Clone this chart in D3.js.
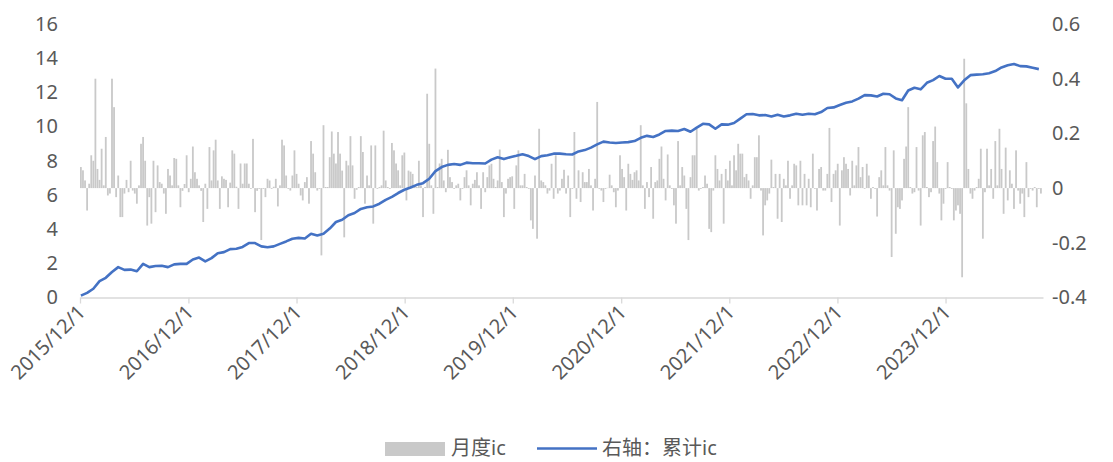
<!DOCTYPE html>
<html>
<head>
<meta charset="utf-8">
<script src="https://cdn.jsdelivr.net/npm/d3@7"></script>
<style>
  body { margin: 0; background: #fff; }
  text { font-family: "Noto Sans", "Noto Sans CJK SC", sans-serif; fill: #595959; }
</style>
</head>
<body>
<div id="chart"></div>
<script>
// weekly monthly-ic values (right axis), first week ending 2015/12/4
var firstWeek = "2015/12/4";
var icValues = [
  0.077,0.065,0.028,-0.082,0.016,0.12,0.10,0.40,0.07,0.03,
  0.144,0.01,0.187,-0.027,-0.02,0.40,0.296,-0.033,0.046,-0.106,
  -0.106,-0.02,0.03,-0.015,0.10,-0.009,-0.02,-0.057,0.01,0.162,
  0.187,0.10,-0.137,-0.033,-0.13,0.10,-0.088,0.083,0.022,0.016,
  -0.02,-0.094,0.07,0.046,0.01,0.11,
  0.107,0.01,-0.07,-0.01,0.015,0.12,-0.015,0.034,0.152,0.058,
  0.034,0.01,-0.01,-0.124,0.016,-0.076,0.15,0.028,0.138,0.177,
  0.028,-0.076,0.043,0.034,0.03,-0.07,0.02,0.138,0.126,0.005,
  -0.076,0.09,0.016,0.09,0.09,0.016,-0.003,0.18,-0.088,-0.01,
  -0.003,-0.19,-0.003,-0.033,0.034,0.028,
  -0.003,0.005,0.034,-0.067,0.01,0.177,0.156,0.046,-0.003,-0.009,
  0.046,0.138,0.052,0.016,-0.027,-0.045,0.022,0.04,-0.057,0.172,
  0.126,0.058,-0.009,-0.003,-0.246,0.23,0.004,0.004,0.113,0.207,0.126,
  0.09,0.205,0.126,0.064,-0.18,0.1,0.083,0.19,0.083,-0.039,
  -0.006,0.004,0.19,0.132,-0.057,0.046,0.01,
  0.156,-0.13,0.156,-0.003,0.004,0.01,0.21,0.028,0.004,-0.003,
  0.165,0.138,0.09,0.065,0.01,0.12,0.13,-0.045,0.064,0.06,
  0.052,0.01,0.004,0.10,0.01,-0.106,0.004,0.345,0.162,0.01,
  -0.094,0.437,0.004,0.09,0.107,0.028,-0.015,0.14,0.04,0.022,
  -0.003,0.01,0.016,-0.045,-0.003,0.04,
  0.065,0.01,-0.063,0.016,0.03,0.058,0.01,-0.076,0.058,-0.015,
  0.04,0.083,0.089,0.034,0.004,0.028,0.141,0.022,-0.106,-0.02,
  0.034,0.04,0.043,-0.076,0.083,0.138,0.01,0.01,0.052,0.004,
  -0.003,-0.118,-0.149,0.046,-0.185,0.217,0.028,0.022,0.01,-0.02,
  -0.009,0.089,-0.039,0.12,-0.02,-0.009,0.034,
  0.067,-0.02,0.046,-0.106,-0.003,0.205,-0.039,0.065,-0.051,0.058,
  0.022,0.022,0.07,0.01,-0.082,0.034,0.315,-0.003,-0.009,-0.051,-0.003,
  0.001,0.049,0.01,-0.015,-0.07,-0.009,0.12,0.07,0.04,-0.082,
  0.089,0.052,0.03,0.058,0.065,0.028,0.23,0.01,-0.076,0.022,
  -0.033,0.077,-0.112,0.022,0.028,0.107,
  0.152,0.034,-0.045,0.123,0.01,-0.003,-0.063,-0.13,0.172,0.01,
  0.077,0.046,-0.076,-0.19,0.04,0.12,0.12,0.217,-0.009,-0.003,
  0.004,0.046,0.016,-0.149,-0.161,-0.009,0.12,0.07,0.028,0.052,
  -0.13,0.07,0.028,0.1,0.01,0.12,0.065,0.162,0.126,0.126,
  0.04,0.052,0.028,-0.039,0.01,0.113,
  0.113,0.193,-0.009,-0.173,-0.063,-0.045,-0.02,0.104,0.004,0.052,
  -0.112,0.052,-0.124,0.034,0.01,0.1,-0.039,0.01,0.089,0.083,
  -0.063,0.1,-0.063,0.052,-0.063,0.034,-0.07,0.126,-0.003,-0.082,
  0.07,0.077,-0.009,-0.009,0.052,0.22,-0.051,0.052,0.065,0.089,-0.137,
  0.065,0.113,0.089,0.07,-0.027,0.1,0.01,
  0.083,0.15,0.04,0.077,-0.003,0.089,0.046,-0.039,0.004,-0.003,
  -0.104,0.04,0.065,0.01,0.15,0.01,-0.009,-0.252,0.138,-0.167,
  -0.07,-0.076,-0.045,0.107,0.152,0.296,0.004,-0.02,-0.015,0.15,
  -0.009,-0.137,0.193,0.205,0.004,-0.033,-0.015,0.172,0.225,0.095,
  -0.02,-0.118,-0.057,-0.003,0.095,0.004,
  -0.003,-0.118,-0.082,-0.063,-0.094,-0.326,0.473,0.31,0.07,-0.02,
  -0.039,-0.009,0.004,0.034,0.144,-0.185,-0.015,0.144,0.01,0.07,
  -0.039,0.172,0.01,0.217,0.07,-0.094,0.148,-0.045,0.065,0.016,
  -0.076,0.138,-0.009,-0.057,-0.02,-0.106,0.095,-0.033,-0.003,-0.009,
  0.004,-0.07,-0.003,-0.02
];

// cumulative ic (right axis), read every 3 weeks
var cumValues = [
  -0.393,-0.383,-0.368,-0.34,-0.328,-0.307,-0.289,-0.299,-0.298,-0.304,-0.277,-0.289,-0.285,-0.284,-0.289,-0.279,
  -0.277,-0.277,-0.261,-0.254,-0.268,-0.256,-0.238,-0.234,-0.223,-0.222,-0.215,-0.201,-0.201,-0.213,-0.216,
  -0.213,-0.204,-0.195,-0.185,-0.182,-0.184,-0.167,-0.173,-0.167,-0.148,-0.124,-0.116,-0.099,-0.091,-0.076,-0.07,
  -0.067,-0.057,-0.043,-0.032,-0.018,-0.006,0.002,0.012,0.018,0.034,0.062,0.077,0.085,0.088,0.085,
  0.093,0.091,0.091,0.09,0.104,0.113,0.106,0.113,0.118,0.124,0.117,0.106,0.117,0.12,0.126,0.126,0.124,
  0.123,0.134,0.139,0.148,0.16,0.17,0.167,0.165,0.167,0.168,0.172,0.184,0.191,0.187,0.196,
  0.209,0.21,0.209,0.216,0.206,0.221,0.235,0.233,0.217,0.233,0.232,0.238,0.254,0.27,0.271,0.266,
  0.267,0.262,0.268,0.262,0.266,0.272,0.268,0.272,0.27,0.278,0.293,0.295,0.304,0.312,0.317,
  0.327,0.34,0.339,0.335,0.345,0.343,0.328,0.321,0.357,0.367,0.361,0.385,0.395,0.41,0.4,0.4,
  0.368,0.394,0.413,0.415,0.416,0.42,0.428,0.441,0.449,0.454,0.446,0.445,0.44,0.435
];

var xLabels = ["2015/12/1","2016/12/1","2017/12/1","2018/12/1","2019/12/1",
               "2020/12/1","2021/12/1","2022/12/1","2023/12/1"];
var leftTicks = [0,2,4,6,8,10,12,14,16];
var rightTicks = [-0.4,-0.2,0,0.2,0.4,0.6];
var rightLabels = ["-0.4","-0.2","0","0.2","0.4","0.6"];
var legendNames = ["月度ic","右轴：累计ic"];

var svgWidth = 1113;
var svgHeight = 462;
var plot = {left: 80, right: 1043, top: 24, bottom: 297.5};

var parseDate = d3.timeParse("%Y/%m/%d");
var start = parseDate(firstWeek);
var barDates = icValues.map((v, i) => d3.timeDay.offset(start, 7 * i));
var cumDates = cumValues.map((v, j) => d3.timeDay.offset(start, 21 * j));

var svg = d3.select("#chart").append("svg")
    .attr("width", svgWidth)
    .attr("height", svgHeight);

var x = d3.scaleTime()
    .domain([parseDate("2015/12/1"), parseDate("2024/10/25")])
    .range([plot.left, plot.right]);
var yLeft = d3.scaleLinear().domain([0, 16]).range([plot.bottom, plot.top]);
var yRight = d3.scaleLinear().domain([-0.4, 0.6]).range([plot.bottom, plot.top]);

// bars
var barW = 1.8;
svg.append("g").selectAll("rect")
    .data(icValues)
    .enter().append("rect")
    .attr("x", (d, i) => x(barDates[i]) - barW / 2)
    .attr("y", d => Math.min(yRight(d), yRight(0)))
    .attr("width", barW)
    .attr("height", d => Math.abs(yRight(d) - yRight(0)))
    .attr("fill", "#c9c9c9");

// axes
var leftAxis = svg.append("g")
    .attr("transform", `translate(${plot.left},0)`)
    .call(d3.axisLeft(yLeft).tickValues(leftTicks).tickSize(0).tickPadding(22));
leftAxis.select(".domain").remove();

var rightAxis = svg.append("g")
    .attr("transform", `translate(${plot.right},0)`)
    .call(d3.axisRight(yRight).tickValues(rightTicks).tickSize(0).tickPadding(9)
      .tickFormat((d, i) => rightLabels[i]));
rightAxis.select(".domain").remove();

var bottomAxis = svg.append("g")
    .attr("transform", `translate(0,${plot.bottom})`)
    .call(d3.axisBottom(x).tickValues(xLabels.map(parseDate)).tickSize(6).tickSizeOuter(0)
      .tickFormat((d, i) => xLabels[i]));
bottomAxis.select(".domain").attr("stroke", "#d9d9d9").attr("stroke-width", 1.3);
bottomAxis.selectAll(".tick line").attr("stroke", "#d9d9d9").attr("stroke-width", 1.3);
bottomAxis.selectAll(".tick text")
    .attr("x", 0).attr("y", 0).attr("dy", 0)
    .attr("text-anchor", "end")
    .attr("transform", "translate(6,16) rotate(-45)");

svg.selectAll(".tick text")
    .style("font-size", "20px")
    .attr("fill", "#595959");

// cumulative line
var line = d3.line()
    .x((d, j) => x(cumDates[j]))
    .y(d => yRight(d));
svg.append("path")
    .datum(cumValues)
    .attr("d", line)
    .attr("fill", "none")
    .attr("stroke", "#4472c4")
    .attr("stroke-width", 2.6)
    .attr("stroke-linejoin", "round");

// legend
var legend = svg.append("g");
legend.append("rect")
    .attr("x", 385).attr("y", 442).attr("width", 60).attr("height", 14)
    .attr("fill", "#c9c9c9");
legend.append("text")
    .attr("x", 451).attr("y", 455)
    .style("font-size", "20px")
    .text(legendNames[0]);
legend.append("line")
    .attr("x1", 537).attr("x2", 597).attr("y1", 448.5).attr("y2", 448.5)
    .attr("stroke", "#4472c4").attr("stroke-width", 2.6);
legend.append("text")
    .attr("x", 602).attr("y", 455)
    .style("font-size", "20px")
    .text(legendNames[1]);
</script>
</body>
</html>
